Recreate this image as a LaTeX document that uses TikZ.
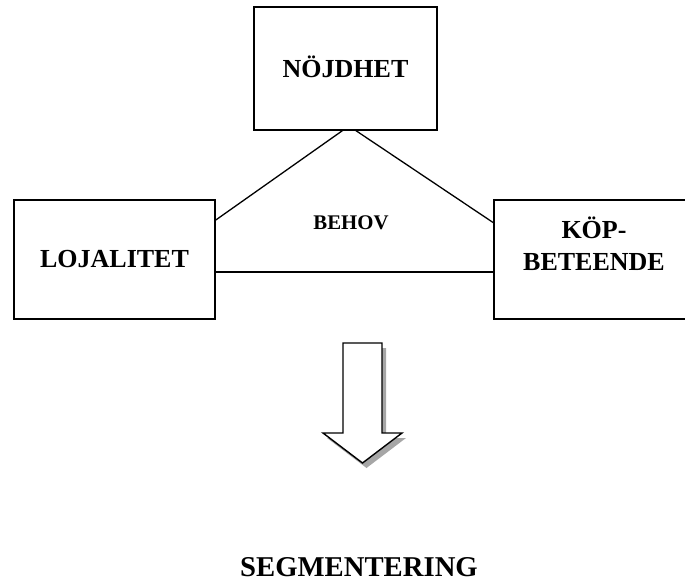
\documentclass[tikz,border=0pt]{standalone}
\usepackage{fontspec}
\setmainfont{Liberation Serif}
\begin{document}
\begin{tikzpicture}[x=1pt,y=-1pt,
  box/.style={draw=black,line width=1.6pt,fill=white,inner sep=0pt,font=\fontsize{26}{32}\selectfont\bfseries,align=center},
  link/.style={draw=black,line width=1.3pt},
  lbl/.style={inner sep=0pt,font=\bfseries}]
\useasboundingbox (0,0) rectangle (685,586);
% triangle connectors
\coordinate (apex) at (349,126);
\node[box,draw=none,fill=none,minimum width=201pt,minimum height=119pt] (loj) at (114.5,259.5) {};
\node[draw=none,inner sep=0pt,minimum width=200pt,minimum height=119pt] (kop) at (594,259.5) {};
\draw[link] (loj.east |- 0,220) -- (apex) -- (kop.west |- 0,223);
\draw[link] (loj.east |- 0,272) -- (kop.west |- 0,272);
% boxes
\node[box,minimum width=183pt,minimum height=123pt] (nojd) at (345.5,68.5) {\raisebox{3pt}{NÖJDHET}};
\node[box,minimum width=201pt,minimum height=119pt] (lojb) at (114.5,259.5) {LOJALITET};
\coordinate (edgeR) at (685,0);
\draw[line width=1.6pt] (edgeR |- kop.north) -- (kop.north west) -- (kop.south west) -- (edgeR |- kop.south);
\node[lbl,font=\fontsize{26}{32}\selectfont\bfseries,align=center] (koplbl) at (594,244) {KÖP-\\BETEENDE};
\node[lbl,font=\fontsize{20.8}{24}\selectfont\bfseries] (behov) at (351,223) {BEHOV};
% arrow with shadow
\begin{scope}[shift={(4,5)}]
\fill[gray!70] (343,343) -- (382,343) -- (382,433) -- (402,433) -- (362.5,463) -- (323,433) -- (343,433) -- cycle;
\end{scope}
\filldraw[fill=white,draw=black,line width=1.4pt] (343,343) -- (382,343) -- (382,433) -- (402,433) -- (362.5,463) -- (323,433) -- (343,433) -- cycle;
\node[lbl,font=\fontsize{28.7}{34}\selectfont\bfseries] (seg) at (359,567) {SEGMENTERING};
\end{tikzpicture}
\end{document}
